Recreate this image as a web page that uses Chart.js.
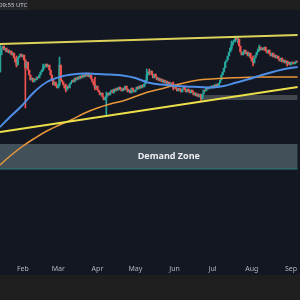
<!DOCTYPE html>
<html>
<head>
<meta charset="utf-8">
<script src="https://cdn.jsdelivr.net/npm/chart.js@4.4.1/dist/chart.umd.min.js"></script>
<style>
  html, body { margin: 0; padding: 0; background: #1e1e1f; }
  canvas { display: block; }
</style>
</head>
<body>
<canvas id="chart" width="300" height="300"></canvas>
<script>
// Colours
const BG_NAVY = '#131722';
const BG_STRIP = '#1e1e1f';
const GREEN = '#26a69a';
const RED = '#ef5350';
const BLUE_MA = '#4f8fe8';
const ORANGE_MA = '#e8973a';
const YELLOW_TOP = '#ddd35a';
const YELLOW_LOW = '#ece04a';
const ZONE_FILL = '#415059';
const ZONE_EDGE = '#2b7f7a';
const GRAY_ZONE = '#41474d';

// Visible range (day of year)
const X_MIN = 12.95;
const X_MAX = 248.4;

// Daily closes, starting at day 13
const FIRST_DAY = 13;
const firstOpen = 2980;
const closes = [
  3150, 3220, 3240, 3200, 3220, 3180, 3200, 3170, 3190, 3150,
  3170, 3120, 3080, 3050, 3120, 3140, 3160, 3130, 3150, 3100,
  3020, 3080, 3000, 2950, 2900, 2920, 2880, 2910, 2900, 2930,
  2920, 2950, 2980, 3000, 3020, 3040, 3060, 3030, 3050, 3000,
  2950, 2900, 2850, 2880, 2840, 2820, 2860, 3050, 2900, 2880,
  2850, 2820, 2800, 2840, 2820, 2860, 2880, 2900, 2880, 2920,
  2900, 2930, 2910, 2940, 2920, 2950, 2930, 2960, 2940, 2970,
  2930, 2950, 2910, 2880, 2850, 2820, 2840, 2800, 2780, 2750,
  2770, 2730, 2700, 2720, 2740, 2770, 2750, 2780, 2800, 2770,
  2810, 2790, 2820, 2800, 2830, 2810, 2790, 2820, 2800, 2840,
  2810, 2780, 2800, 2770, 2820, 2800, 2780, 2800, 2830, 2810,
  2840, 2820, 2850, 2830, 2860, 2900, 2950, 2980, 2970, 2990,
  2950, 2920, 2960, 2930, 2900, 2920, 2890, 2910, 2880, 2900,
  2870, 2890, 2860, 2880, 2850, 2870, 2840, 2820, 2840, 2810,
  2790, 2820, 2800, 2780, 2810, 2830, 2800, 2780, 2810, 2790,
  2770, 2800, 2780, 2750, 2770, 2740, 2760, 2730, 2750, 2710,
  2760, 2800, 2790, 2820, 2810, 2830, 2820, 2840, 2820, 2850,
  2830, 2860, 2840, 2870, 2900, 2950, 2980, 3020, 3080, 3100,
  3140, 3180, 3220, 3250, 3280, 3300, 3320, 3300, 3310, 3240,
  3180, 3150, 3180, 3200, 3160, 3180, 3140, 3170, 3120, 3090,
  3070, 3120, 3150, 3180, 3210, 3230, 3200, 3220, 3200, 3230,
  3190, 3170, 3200, 3160, 3140, 3170, 3130, 3150, 3120, 3140,
  3110, 3090, 3120, 3080, 3100, 3070, 3090, 3060, 3080, 3050,
  3070, 3080, 3060, 3070, 3090, 3080
];

// Notable wicks: [day, low, high]
const wicks = [
  [13, 2980, 3250], [26, 3030, 3140], [33, 2620, 3100], [47, 2990, 3060],
  [60, 2840, 3130], [65, 2780, 2860], [88, 2800, 2930], [97, 2550, 2780],
  [129, 2890, 3010], [131, 2950, 3010], [150, 2800, 2880], [172, 2690, 2760],
  [196, 3200, 3290], [199, 3280, 3340], [201, 3270, 3330], [213, 3040, 3140],
  [218, 3190, 3250], [240, 3040, 3090]
];

// Moving averages
const maDays = [13, 20, 30, 40, 50, 60, 70, 80, 90, 100, 110, 120, 130,
  140, 150, 160, 170, 180, 190, 200, 210, 220, 230, 240, 248.4];
const ma200 = [2050, 2130, 2230, 2315, 2390, 2450, 2505, 2570, 2620, 2660, 2690, 2735, 2780,
  2810, 2845, 2875, 2900, 2910, 2918, 2923, 2927, 2930, 2930, 2930, 2930];
const ma100 = [2430, 2520, 2640, 2780, 2880, 2930, 2955, 2965, 2960, 2955, 2945, 2920, 2875,
  2855, 2845, 2835, 2830, 2825, 2840, 2875, 2910, 2950, 2985, 3015, 3030];

// Trendlines [day, price]
const upperTrend = [[X_MIN, 3260], [X_MAX, 3350]];
const lowerTrend = [[X_MIN, 2380], [X_MAX, 2830]];

// Zones
const demandZone = [2010, 2260];
const grayZoneDays = [172.3, X_MAX];
const grayZonePrices = [2700, 2750];
const ZONE_LABEL_DAY = 146.4;

// Month ticks
const monthDays = [31, 59, 90, 120, 151, 181, 212, 243];
const monthLabels = ['Feb', 'Mar', 'Apr', 'May', 'Jun', 'Jul', 'Aug', 'Sep'];

// Build candle bodies and wicks
const bodies = closes.map((c, i) => {
  const open = i === 0 ? firstOpen : closes[i - 1];
  return { x: FIRST_DAY + i, y: [open, c] };
});
const bodyColors = bodies.map(b => (b.y[1] >= b.y[0] ? GREEN : RED));
const wickData = wicks.map(w => ({ x: w[0], y: [w[1], w[2]] }));
const wickColors = wicks.map(w => bodyColors[w[0] - FIRST_DAY] || GREEN);

const backdrop = {
  id: 'backdrop',
  beforeDraw(chart) {
    const ctx = chart.ctx;
    ctx.save();
    ctx.fillStyle = BG_STRIP;
    ctx.fillRect(0, 0, 300, 300);
    ctx.fillStyle = BG_NAVY;
    ctx.fillRect(0, 10, 300, 265);
    ctx.fillStyle = '#25262a';
    ctx.fillRect(0, 0, 28, 10);
    ctx.fillStyle = '#c9ccd3';
    ctx.font = '6px "Noto Sans"';
    ctx.textAlign = 'left';
    ctx.textBaseline = 'middle';
    ctx.fillText('09:55 UTC', -1, 5);
    ctx.restore();
  }
};

const zoneLabel = {
  id: 'zoneLabel',
  afterDatasetsDraw(chart) {
    const { ctx, scales: { x, y } } = chart;
    ctx.save();
    ctx.fillStyle = '#eceef1';
    ctx.font = 'bold 9px "Open Sans"';
    ctx.textAlign = 'center';
    ctx.textBaseline = 'middle';
    ctx.fillText('Demand Zone', x.getPixelForValue(ZONE_LABEL_DAY),
      y.getPixelForValue((demandZone[0] + demandZone[1]) / 2));
    ctx.restore();
  }
};

const toPoints = pairs => pairs.map(p => ({ x: p[0], y: p[1] }));

new Chart(document.getElementById('chart'), {
  type: 'bar',
  data: {
    datasets: [
      {
        type: 'line',
        data: [{ x: X_MIN, y: demandZone[0] }, { x: X_MAX, y: demandZone[0] }],
        borderColor: ZONE_EDGE,
        borderWidth: 1,
        backgroundColor: ZONE_FILL,
        fill: { value: demandZone[1] },
        pointRadius: 0,
        order: 10
      },
      {
        type: 'line',
        data: [{ x: grayZoneDays[0], y: grayZonePrices[0] }, { x: grayZoneDays[1], y: grayZonePrices[0] }],
        borderWidth: 0,
        backgroundColor: GRAY_ZONE,
        fill: { value: grayZonePrices[1] },
        pointRadius: 0,
        order: 9
      },
      {
        data: wickData,
        backgroundColor: wickColors,
        barThickness: 1,
        grouped: false,
        order: 6
      },
      {
        data: bodies,
        backgroundColor: bodyColors,
        barThickness: 1.7,
        grouped: false,
        order: 5
      },
      {
        type: 'line',
        data: maDays.map((d, i) => ({ x: d, y: ma200[i] })),
        borderColor: ORANGE_MA,
        borderWidth: 1.5,
        tension: 0.4,
        pointRadius: 0,
        order: 3
      },
      {
        type: 'line',
        data: maDays.map((d, i) => ({ x: d, y: ma100[i] })),
        borderColor: BLUE_MA,
        borderWidth: 2,
        tension: 0.4,
        pointRadius: 0,
        order: 2
      },
      {
        type: 'line',
        data: toPoints(upperTrend),
        borderColor: YELLOW_TOP,
        borderWidth: 2,
        pointRadius: 0,
        order: 1
      },
      {
        type: 'line',
        data: toPoints(lowerTrend),
        borderColor: YELLOW_LOW,
        borderWidth: 2,
        pointRadius: 0,
        order: 1
      }
    ]
  },
  options: {
    responsive: false,
    animation: false,
    devicePixelRatio: 1,
    layout: { autoPadding: false, padding: { top: 10, bottom: 25, left: 0, right: 0 } },
    plugins: { legend: { display: false }, tooltip: { enabled: false } },
    scales: {
      x: {
        type: 'linear',
        min: X_MIN,
        max: X_MAX,
        offset: false,
        grid: { display: false, drawTicks: false },
        border: { display: false },
        afterBuildTicks: scale => { scale.ticks = monthDays.map(v => ({ value: v })); },
        afterFit: scale => { scale.height = 13; },
        ticks: {
          autoSkip: false,
          maxRotation: 0,
          padding: 3,
          color: '#b2b5be',
          font: { size: 7, family: 'Noto Sans' },
          callback: v => monthLabels[monthDays.indexOf(v)]
        }
      },
      y: {
        display: false,
        min: 1080,
        max: 3600
      }
    }
  },
  plugins: [backdrop, zoneLabel]
});
</script>
</body>
</html>
